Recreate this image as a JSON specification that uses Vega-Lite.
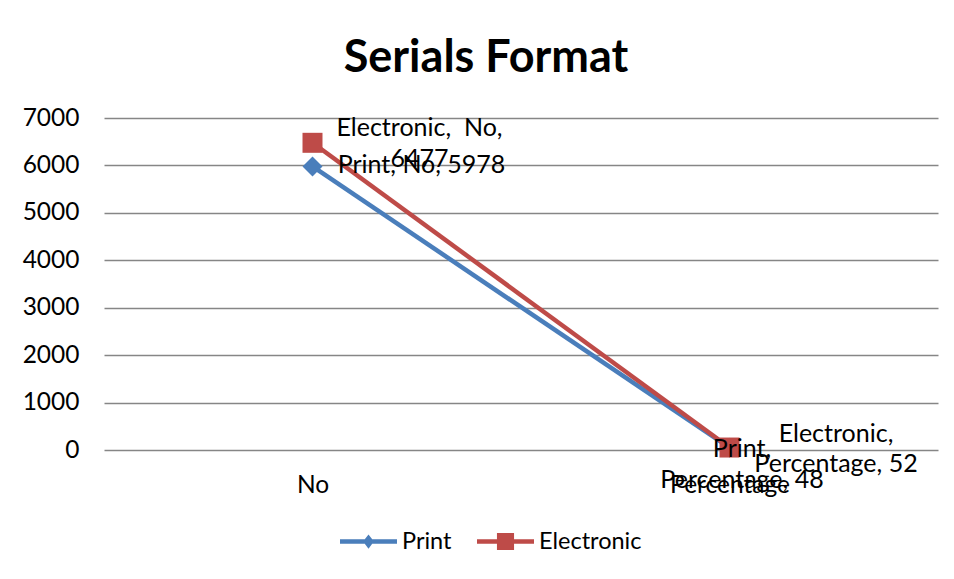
{
  "$schema": "https://vega.github.io/schema/vega-lite/v6.json",
  "width": 834,
  "height": 332,
  "autosize": {"type": "none"},
  "padding": {"left": 104, "top": 118, "right": 16, "bottom": 129},
  "background": "white",
  "title": {
    "text": "Serials Format",
    "font": "Lato",
    "fontSize": 45,
    "fontWeight": "bold",
    "color": "black",
    "anchor": "middle",
    "frame": "group",
    "baseline": "alphabetic",
    "offset": -12,
    "dx": -35
  },
  "data": {
    "values": [
      {"series": "Print", "cat": "No", "value": 5978},
      {"series": "Print", "cat": "Percentage", "value": 48},
      {"series": "Electronic", "cat": "No", "value": 6477},
      {"series": "Electronic", "cat": "Percentage", "value": 52}
    ]
  },
  "transform": [
    {
      "calculate": "datum.cat === 'No' ? (datum.series === 'Print' ? datum.series + ', ' + datum.cat + ', ' + datum.value : [datum.series + ',\u00a0 ' + datum.cat + ',', '' + datum.value]) : [datum.series + ',', datum.cat + ', ' + datum.value]",
      "as": "label"
    }
  ],
  "encoding": {
    "x": {
      "field": "cat",
      "type": "nominal",
      "sort": ["No", "Percentage"],
      "scale": {"type": "point", "padding": 0.5},
      "axis": {
        "title": null,
        "labelAngle": 0,
        "labelFont": "Lato",
        "labelFontSize": 24.5,
        "labelColor": "black",
        "labelPadding": 23,
        "ticks": false,
        "domain": false,
        "grid": false
      }
    },
    "y": {
      "field": "value",
      "type": "quantitative",
      "scale": {"domain": [0, 7000], "nice": false},
      "axis": {
        "title": null,
        "values": [0, 1000, 2000, 3000, 4000, 5000, 6000, 7000],
        "format": "d",
        "labelFont": "Lato",
        "labelFontSize": 24.5,
        "labelColor": "black",
        "labelPadding": 25,
        "ticks": false,
        "domain": false,
        "grid": true,
        "gridColor": "#868686",
        "gridWidth": 1.5
      }
    },
    "color": {
      "field": "series",
      "type": "nominal",
      "scale": {"domain": ["Print", "Electronic"], "range": ["#4a7ebb", "#be4b48"]},
      "legend": {
        "orient": "none",
        "legendX": 236,
        "legendY": 395,
        "direction": "horizontal",
        "title": null,
        "labelFont": "Lato",
        "labelFontSize": 23.5,
        "labelColor": "black",
        "symbolSize": 3249,
        "labelOffset": 5,
        "columnPadding": 25,
        "symbolStrokeWidth": 0,
        "encode": {
          "symbols": {
            "update": {
              "shape": {"signal": "datum.value === 'Print' ? 'M-1,-0.08H-0.13L0,-0.25L0.13,-0.08H1V0.08H0.13L0,0.25L-0.13,0.08H-1Z' : 'M-1,-0.08H-0.3V-0.3H0.3V-0.08H1V0.08H0.3V0.3H-0.3V0.08H-1Z'"},
              "fill": {"scale": "color", "field": "value"},
              "opacity": {"value": 1},
              "strokeWidth": {"value": 0}
            }
          }
        }
      }
    }
  },
  "layer": [
    {
      "transform": [{"filter": "datum.series === 'Print'"}],
      "mark": {"type": "line", "strokeWidth": 4.5}
    },
    {
      "transform": [{"filter": "datum.series === 'Print'"}],
      "mark": {"type": "point", "shape": "diamond", "filled": true, "size": 400, "opacity": 1}
    },
    {
      "transform": [{"filter": "datum.series === 'Electronic'"}],
      "mark": {"type": "line", "strokeWidth": 4.5}
    },
    {
      "transform": [{"filter": "datum.series === 'Electronic'"}],
      "mark": {"type": "point", "shape": "square", "filled": true, "size": 400, "opacity": 1}
    },
    {
      "transform": [{"filter": "datum.series === 'Print' && datum.cat === 'No'"}],
      "mark": {"type": "text", "font": "Lato", "fontSize": 25, "align": "center", "baseline": "alphabetic", "lineHeight": 31, "dx": 109, "dy": 7},
      "encoding": {"text": {"field": "label"}, "color": {"value": "black"}}
    },
    {
      "transform": [{"filter": "datum.series === 'Electronic' && datum.cat === 'No'"}],
      "mark": {"type": "text", "font": "Lato", "fontSize": 25, "align": "center", "baseline": "alphabetic", "lineHeight": 31, "dx": 107, "dy": -7.3},
      "encoding": {"text": {"field": "label"}, "color": {"value": "black"}}
    },
    {
      "transform": [{"filter": "datum.series === 'Print' && datum.cat === 'Percentage'"}],
      "mark": {"type": "text", "font": "Lato", "fontSize": 25, "align": "center", "baseline": "alphabetic", "lineHeight": 31, "dx": 12.5, "dy": 9.3},
      "encoding": {"text": {"field": "label"}, "color": {"value": "black"}}
    },
    {
      "transform": [{"filter": "datum.series === 'Electronic' && datum.cat === 'Percentage'"}],
      "mark": {"type": "text", "font": "Lato", "fontSize": 25, "align": "center", "baseline": "alphabetic", "lineHeight": 30, "dx": 106.5, "dy": -5.5},
      "encoding": {"text": {"field": "label"}, "color": {"value": "black"}}
    }
  ],
  "config": {
    "view": {"stroke": null}
  }
}
